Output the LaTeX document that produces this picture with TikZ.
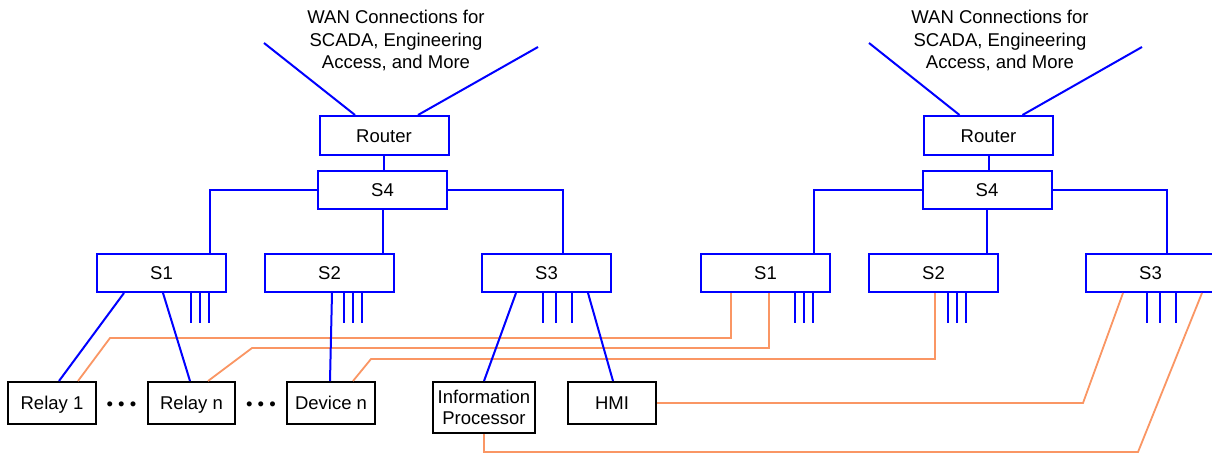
\documentclass[tikz,border=0pt]{standalone}
\usepackage{fontspec}
\setmainfont{Liberation Sans}
\usetikzlibrary{calc}
\definecolor{netblue}{RGB}{0,0,255}
\definecolor{linkorange}{RGB}{250,150,100}

\begin{document}
\begin{tikzpicture}[x=1pt,y=-1pt,
  txt/.style={font=\fontsize{18.5}{21.7}\selectfont},
  switch/.style={txt, draw=netblue, line width=2pt, fill=white, rectangle, inner sep=0pt,
    minimum width=129pt, minimum height=38pt, text height=13.2pt, text depth=0pt},
  router/.style={switch, minimum height=39pt},
  device/.style={txt, draw=black, line width=2pt, fill=white, rectangle, inner sep=0pt,
    minimum width=88pt, minimum height=42pt, text height=13.2pt, text depth=0pt},
  twoline/.style={txt, draw=black, line width=2pt, fill=white, rectangle, inner sep=0pt,
    minimum width=102pt, minimum height=51pt, align=center},
  lan/.style={netblue, line width=2pt},
  fiber/.style={linkorange, line width=1.8pt},
  wan/.style={txt, align=center, font=\fontsize{18.5}{22.5}\selectfont},
]
\clip (0,0) rectangle (1212,454);
\fill[white] (0,0) rectangle (1212,454);

% ---------- left network ----------
\node[wan] (wanL) at (396,40.7) {WAN Connections for\\SCADA, Engineering\\Access, and More};
\node[router] (rtL) at (384,135.5) {Router};
\node[switch] (s4L) at (382.5,190) {S4};
\node[switch] (s1L) at (161.5,273) {S1};
\node[switch] (s2L) at (329.5,273) {S2};
\node[switch] (s3L) at (546.5,273) {S3};

\node[device] (relayA) at (52,403) {Relay 1};
\node[device, minimum width=87pt] (relayN) at (191.5,403) {Relay n};
\node[device] (devN) at (331,403) {Device n};
\node[twoline] (info) at (484,407.5) {Information\\Processor};
\node[device] (hmi) at (612,403) {HMI};

\node[txt, anchor=base, inner sep=0pt] (dotsA) at (121.5,410) {• • •};
\node[txt, anchor=base, inner sep=0pt] (dotsB) at (261,410) {• • •};

% ---------- right network ----------
\node[wan] (wanR) at (1000,40.7) {WAN Connections for\\SCADA, Engineering\\Access, and More};
\node[router] (rtR) at (988.5,135.5) {Router};
\node[switch] (s4R) at (987,190) {S4};
\node[switch] (s1R) at (765.5,273) {S1};
\node[switch] (s2R) at (933.5,273) {S2};
\node[switch] (s3R) at (1150.5,273) {S3};

% free ends of the WAN links
\coordinate (wanL1) at (264,43);
\coordinate (wanL2) at (538,47);
\coordinate (wanR1) at (869,43);
\coordinate (wanR2) at (1142,47);

% ---------- redundant (orange) links to the right network ----------
\draw[fiber] ($(relayA.north)+(26,0)$) -- (110,338) -- (731,338) -- ($(s1R.south)+(-34.5,0)$);
\draw[fiber] ($(relayN.north)+(16.5,0)$) -- (252,348) -- (769,348) -- ($(s1R.south)+(3.5,0)$);
\draw[fiber] ($(devN.north)+(22,0)$) -- (371,359) -- (935,359) -- ($(s2R.south)+(1.5,0)$);
\draw[fiber] (hmi.east) -- (1083,403) -- ($(s3R.south)+(-27.5,0)$);
\draw[fiber] (info.south) -- (484,452) -- (1138,452) -- ($(s3R.south)+(51.5,0)$);

% ---------- blue LAN links ----------
\foreach \g in {L,R}{
  \draw[lan] (wan\g1) -- ($(rt\g.north)+(-29,0)$);
  \draw[lan] (wan\g2) -- ($(rt\g.north)+(34,0)$);
  \draw[lan] (rt\g.south) -- (rt\g.south |- s4\g.north);
  \draw[lan] (s4\g.west) -| ($(s1\g.north)+(48.5,0)$);
  \draw[lan] (s4\g.south) -- (s4\g.south |- s2\g.north);
  \draw[lan] (s4\g.east) -| ($(s3\g.north)+(16,0)$);
  % spare switch ports
  \foreach \dx in {29.5,38.5,47.5} \draw[lan] ($(s1\g.south)+(\dx,0)$) -- ++(0,30);
  \foreach \dx in {14,23,32.5} \draw[lan] ($(s2\g.south)+(\dx,0)$) -- ++(0,30);
  \foreach \dx in {-3.5,9.5,25} \draw[lan] ($(s3\g.south)+(\dx,0)$) -- ++(0,30);
}

\draw[lan] ($(s1L.south)+(-37.5,0)$) -- ($(relayA.north)+(7,0)$);
\draw[lan] ($(s1L.south)+(1.5,0)$) -- ($(relayN.north)+(-1.5,0)$);
\draw[lan] ($(s2L.south)+(2.5,0)$) -- ($(devN.north)+(-1,0)$);
\draw[lan] ($(s3L.south)+(-30.5,0)$) -- (info.north);
\draw[lan] ($(s3L.south)+(41.5,0)$) -- ($(hmi.north)+(1,0)$);
\end{tikzpicture}
\end{document}
